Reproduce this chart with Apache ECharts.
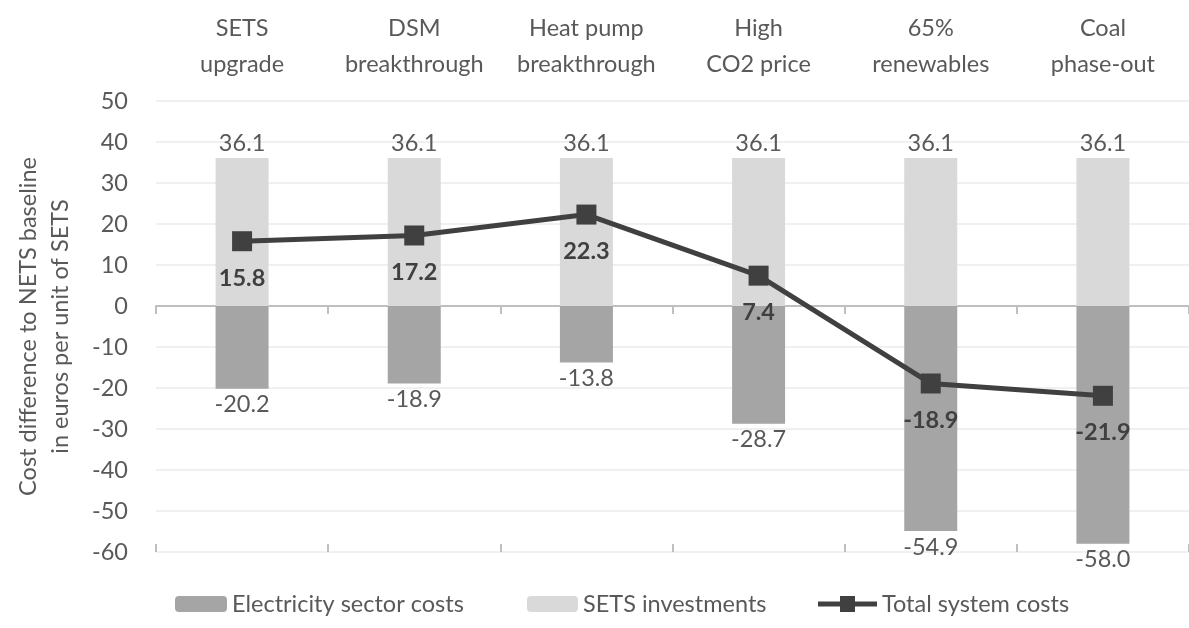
<!DOCTYPE html>
<html>
<head>
<meta charset="utf-8">
<script src="https://cdn.jsdelivr.net/npm/echarts@6/dist/echarts.min.js"></script>
<style>
html,body{margin:0;padding:0;background:#fff;}
#c{width:1189px;height:628px;}
</style>
</head>
<body>
<div id="c"></div>
<script>
const categories = ['SETS\nupgrade', 'DSM\nbreakthrough', 'Heat pump\nbreakthrough', 'High\nCO2 price', '65%\nrenewables', 'Coal\nphase-out'];
const electricityCosts = [-20.2, -18.9, -13.8, -28.7, -54.9, -58.0];
const setsInvestments = [36.1, 36.1, 36.1, 36.1, 36.1, 36.1];
const totalCosts = [15.8, 17.2, 22.3, 7.4, -18.9, -21.9];
const yTicks = {min: -60, max: 50, interval: 10};
const seriesNames = ['Electricity sector costs', 'SETS investments', 'Total system costs'];

const FONT = 'Lato';
const FS = 23.5;
const TXT = '#595959';
const chart = echarts.init(document.getElementById('c'), null, {renderer: 'canvas'});
const fmt = p => p.value.toFixed(1);
const legendBase = {
  top: 587, itemHeight: 16,
  textStyle: {fontFamily: FONT, fontSize: FS, color: TXT},
  selectedMode: false
};
const lineIcon = 'path://M0,5.5H22V0H37V5.5H59V10.5H37V16H22V10.5H0Z';
chart.setOption({
  animation: false,
  textStyle: {fontFamily: FONT},
  grid: {left: 156, top: 101, width: 1036, height: 451, containLabel: false},
  legend: [
    Object.assign({}, legendBase, {left: 170, itemWidth: 52, data: [seriesNames[0]]}),
    Object.assign({}, legendBase, {left: 522, itemWidth: 51, data: [seriesNames[1]]}),
    Object.assign({}, legendBase, {left: 813, itemWidth: 59, icon: lineIcon, itemStyle: {color: '#404040'}, data: [seriesNames[2]]})
  ],
  xAxis: [
    {
      type: 'category', data: categories, position: 'bottom',
      axisLine: {onZero: true, lineStyle: {color: '#bfbfbf', width: 2}},
      axisTick: {show: true, length: 8, inside: false, lineStyle: {color: '#bfbfbf', width: 2}},
      axisLabel: {show: false}, splitLine: {show: false}
    },
    {
      type: 'category', data: categories, position: 'bottom',
      axisLine: {onZero: true, show: false},
      axisTick: {show: true, length: 8, inside: true, lineStyle: {color: '#bfbfbf', width: 2}},
      axisLabel: {show: false}, splitLine: {show: false}
    },
    {
      type: 'category', data: categories, position: 'top',
      axisLine: {show: false, onZero: false},
      axisTick: {show: false},
      axisLabel: {show: true, margin: 19, fontFamily: FONT, fontSize: FS, color: TXT, lineHeight: 36, interval: 0},
      splitLine: {show: false}
    }
  ],
  yAxis: {
    type: 'value', min: yTicks.min, max: yTicks.max, interval: yTicks.interval,
    axisLine: {show: false}, axisTick: {show: false},
    axisLabel: {fontFamily: FONT, fontSize: FS, color: TXT, margin: 28},
    splitLine: {lineStyle: {color: '#ebebeb', width: 1.5}},
    name: 'Cost difference to NETS baseline\nin euros per unit of SETS',
    nameLocation: 'middle', nameRotate: 90, nameGap: 80,
    nameTextStyle: {fontFamily: FONT, fontSize: FS, color: TXT, lineHeight: 32}
  },
  series: [
    {
      name: seriesNames[0], type: 'bar', stack: 'a', xAxisIndex: 0,
      data: electricityCosts, barWidth: 53,
      itemStyle: {color: '#a5a5a5'},
      label: {show: true, position: 'bottom', distance: 4, fontFamily: FONT, fontSize: FS, color: TXT, formatter: fmt}
    },
    {
      name: seriesNames[1], type: 'bar', stack: 'a', xAxisIndex: 0,
      data: setsInvestments, barWidth: 53,
      itemStyle: {color: '#d9d9d9'},
      label: {show: true, position: 'top', distance: 3, fontFamily: FONT, fontSize: FS, color: TXT, formatter: fmt}
    },
    {
      name: seriesNames[2], type: 'line', xAxisIndex: 0,
      data: totalCosts, z: 5,
      symbol: 'rect', symbolSize: 20,
      lineStyle: {color: '#404040', width: 5},
      itemStyle: {color: '#404040'},
      label: {show: true, position: 'bottom', distance: 15, fontFamily: FONT, fontSize: FS, fontWeight: 'bold', color: '#404040', formatter: fmt}
    }
  ]
});
</script>
</body>
</html>
